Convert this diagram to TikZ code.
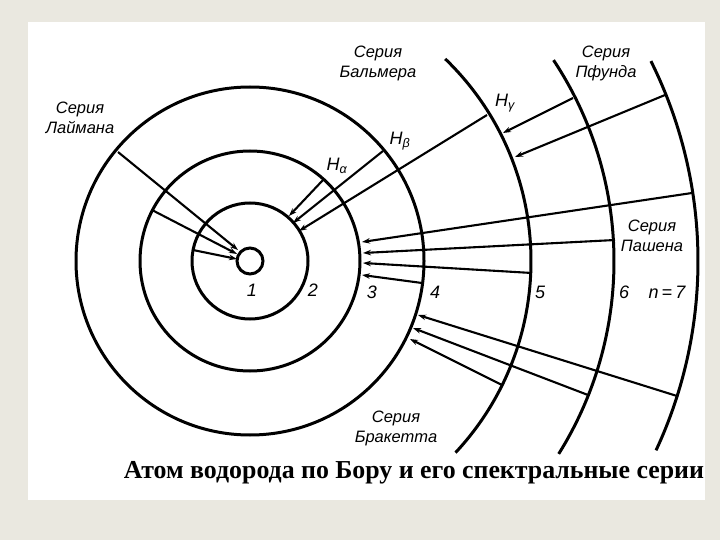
\documentclass[tikz,border=0pt]{standalone}
\usepackage{fontspec}
\setmainfont{Liberation Serif}
\newfontfamily\lbl{Liberation Sans}
\usetikzlibrary{arrows.meta}
\definecolor{bgc}{HTML}{EAE8E0}
\tikzset{
  orbit/.style={line width=3pt},
  ray/.style={line width=2.1pt,-{Stealth[length=8pt,width=5.5pt]}},
  lab/.style={font=\lbl\itshape\fontsize{16.5}{20}\selectfont,align=center},
  num/.style={font=\lbl\itshape\fontsize{18}{18}\selectfont}
}
\begin{document}
\begin{tikzpicture}[x=1pt,y=-1pt]
\useasboundingbox (0,0) rectangle (720,540);
\fill[bgc] (0,0) rectangle (720,540);
\fill[white] (28,22) rectangle (705,500);
\coordinate (c) at (250,261);
% orbits
\node[draw,circle,orbit,minimum size=26pt,inner sep=0pt] (n1) at (c) {};
\draw[orbit] (c) circle[radius=58];
\draw[orbit] (c) circle[radius=110];
\draw[orbit] (c) circle[radius=174];
\draw[orbit] ([shift={(-46:281)}]c) arc[start angle=-46,end angle=43,radius=281];
\draw[orbit] ([shift={(-33.5:364)}]c) arc[start angle=-33.5,end angle=32,radius=364];
\draw[orbit] ([shift={(-26.5:448)}]c) arc[start angle=-26.5,end angle=25,radius=448];
% Lyman
\coordinate (l1) at (118,152); \coordinate (l1e) at (238,250);
\coordinate (l2) at (152,210); \coordinate (l2e) at (237,254);
\coordinate (l3) at (193,250); \coordinate (l3e) at (237,259);
\draw[ray] (l1) -- (l1e); \draw[ray] (l2) -- (l2e); \draw[ray] (l3) -- (l3e);
% Balmer
\coordinate (ba) at (323,180); \coordinate (bae) at (289,216);
\coordinate (bb) at (383,151); \coordinate (bbe) at (293,223);
\coordinate (bg) at (487,115); \coordinate (bge) at (299,231);
\draw[ray] (ba) -- (bae); \draw[ray] (bb) -- (bbe); \draw[ray] (bg) -- (bge);
% Paschen
\coordinate (p1) at (692,193); \coordinate (p1e) at (362,242);
\coordinate (p2) at (615,240); \coordinate (p2e) at (363,253);
\coordinate (p3) at (532,273); \coordinate (p3e) at (363,263);
\coordinate (p4) at (422,283); \coordinate (p4e) at (362,275);
\draw[ray] (p1) -- (p1e); \draw[ray] (p2) -- (p2e); \draw[ray] (p3) -- (p3e); \draw[ray] (p4) -- (p4e);
% Pfund
\coordinate (f1) at (665,95); \coordinate (f1e) at (515,157);
\coordinate (f2) at (573,98); \coordinate (f2e) at (503,133);
\draw[ray] (f1) -- (f1e); \draw[ray] (f2) -- (f2e);
% Brackett
\coordinate (k1) at (677,396); \coordinate (k1e) at (418,315);
\coordinate (k2) at (588,395); \coordinate (k2e) at (413,328);
\coordinate (k3) at (502,385); \coordinate (k3e) at (410,339);
\draw[ray] (k1) -- (k1e); \draw[ray] (k2) -- (k2e); \draw[ray] (k3) -- (k3e);
% labels
\node[lab] (tl) at (80,118) {Серия\\Лаймана};
\node[lab] (tb) at (378,63) {Серия\\Бальмера};
\node[lab] (tf) at (606,63) {Серия\\Пфунда};
\node[lab] (tp) at (652,236) {Серия\\Пашена};
\node[lab] (tk) at (396,428) {Серия\\Бракетта};
\node[num] (ha) at (337,166) {H\textsubscript{α}};
\node[num] (hb) at (400,141) {H\textsubscript{β}};
\node[num] (hg) at (505,103) {H\textsubscript{γ}};
\node[num] (o1) at (252,290) {1};
\node[num] (o2) at (313,290) {2};
\node[num] (o3) at (372,292) {3};
\node[num] (o4) at (435,292) {4};
\node[num] (o5) at (540,292) {5};
\node[num] (o6) at (624,292) {6};
\node[num] (o7) at (667,292) {n\,=\,7};
\node[anchor=base] (title) at (414,478)
  {\resizebox{580pt}{!}{\bfseries Атом водорода по Бору и его спектральные серии}};
\end{tikzpicture}
\end{document}
